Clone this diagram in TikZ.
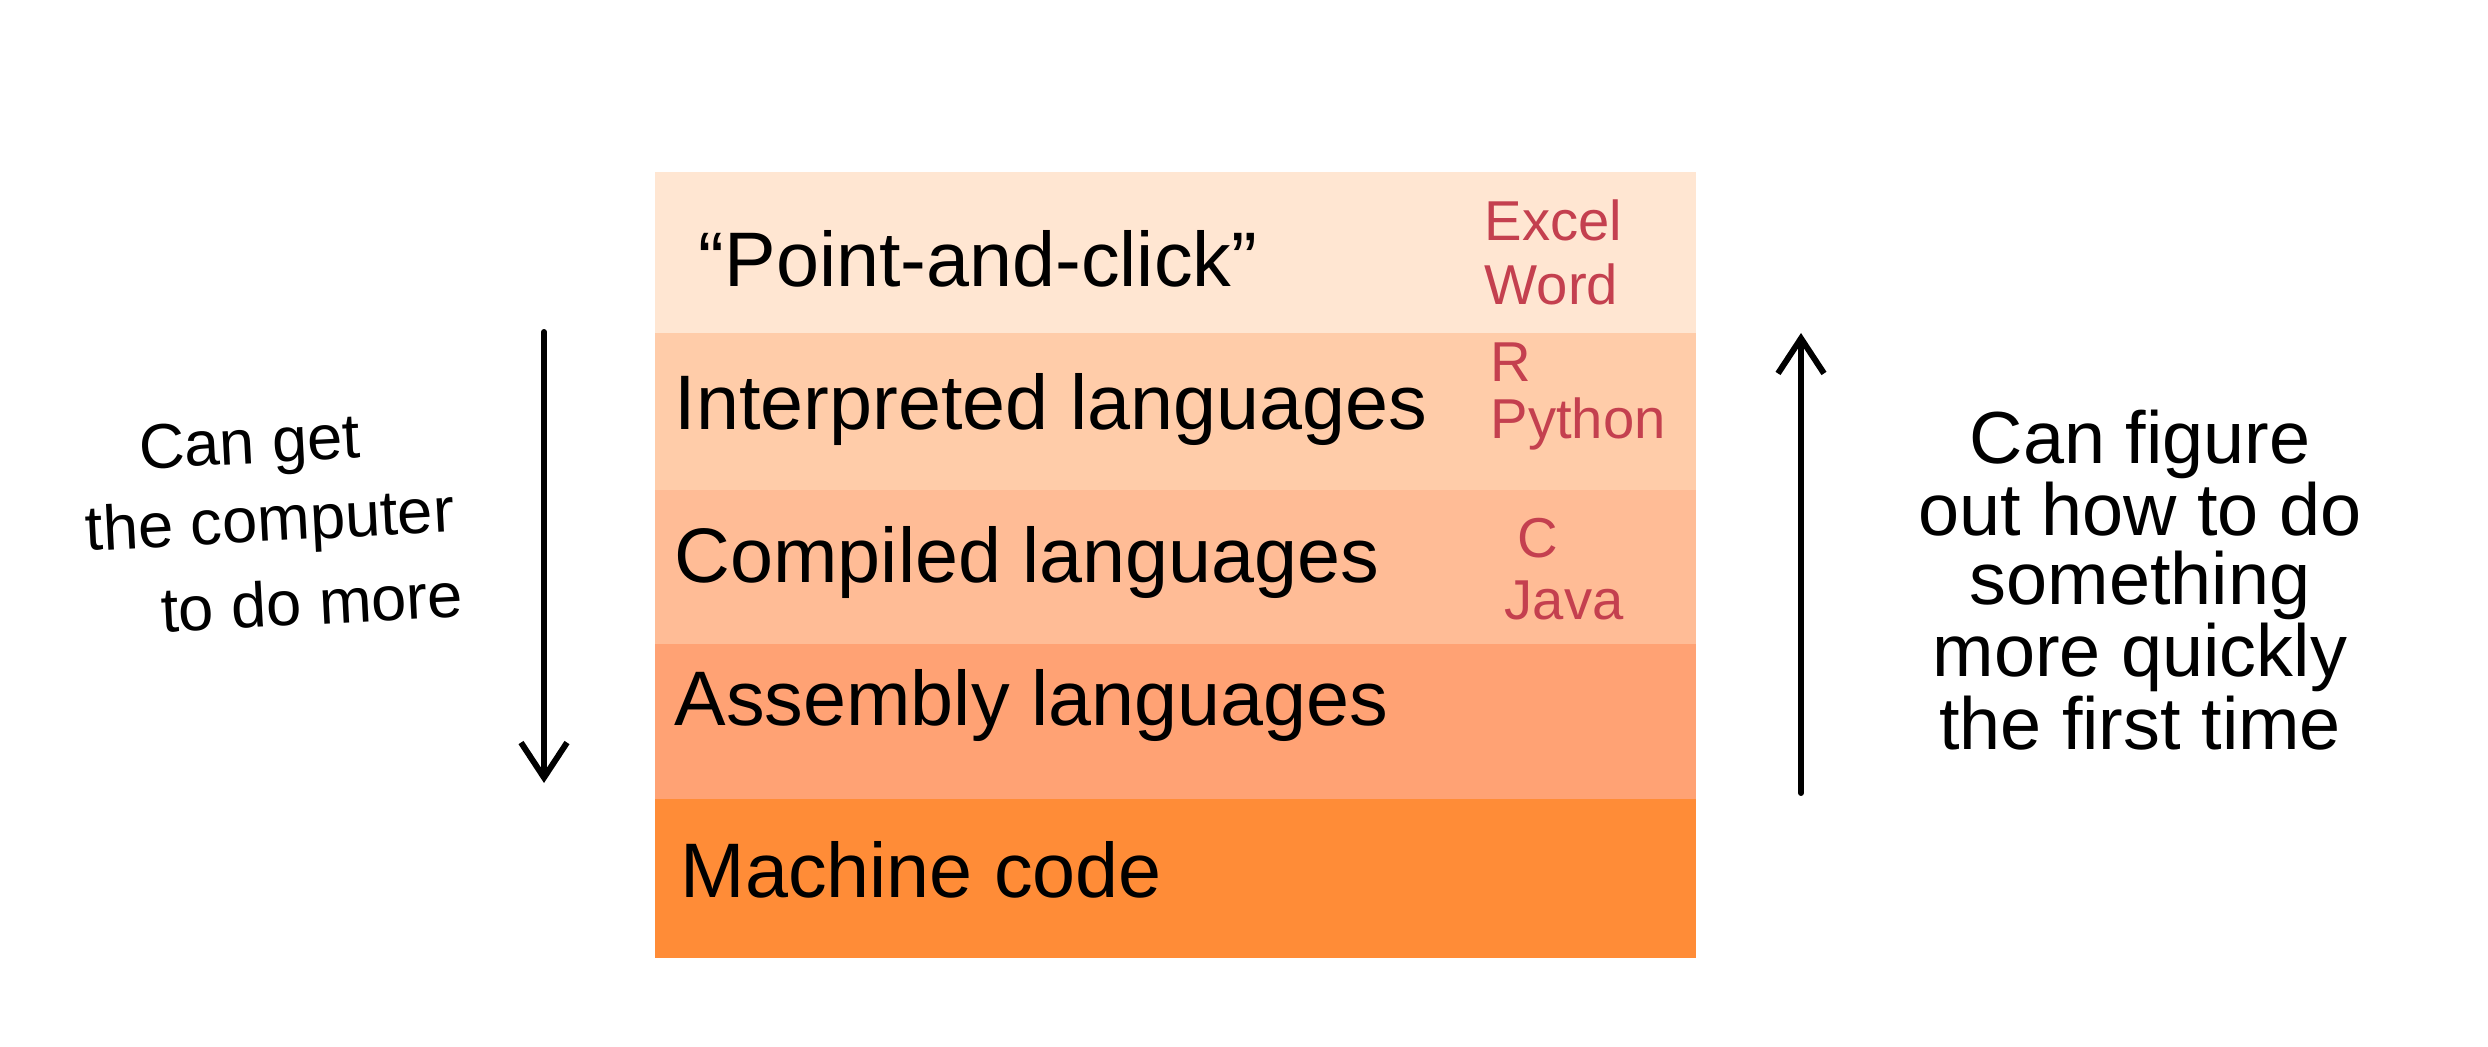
\documentclass[tikz,border=0pt]{standalone}
\usepackage{fontspec}
\setmainfont{Liberation Sans}
\usetikzlibrary{arrows.meta}
\definecolor{bandA}{HTML}{FFE6D2}
\definecolor{bandB}{HTML}{FFCCA9}
\definecolor{bandC}{HTML}{FFBC96}
\definecolor{bandD}{HTML}{FFA274}
\definecolor{bandE}{HTML}{FF8C37}
\definecolor{redtext}{HTML}{C4404F}
\tikzset{
  band/.style={rectangle, draw=none, inner sep=0pt, minimum width=104.1mm, anchor=north west},
  mainlabel/.style={anchor=west, inner sep=0pt, font=\fontsize{22}{26}\selectfont, text=black},
  examplelabel/.style={inner sep=0pt, font=\fontsize{16}{19}\selectfont, text=redtext},
  sidenote/.style={inner sep=0pt, align=center, text=black},
  leftnote/.style={inner sep=0pt, rotate=3, text=black, font=\fontsize{18}{21}\selectfont},
  handarrow/.style={line width=1.7pt, line cap=round, -{Straight Barb[length=3.5mm, width=4.6mm, line width=1.7pt]}}
}
\begin{document}
\begin{tikzpicture}[x=0.1mm, y=-0.1mm]
\useasboundingbox (0,0) rectangle (2488,1047);
\fill[white] (0,0) rectangle (2488,1047);
% bands
\node[band, fill=bandA, minimum height=16.1mm] (b1) at (654,171) {};
\node[band, fill=bandB, minimum height=15.7mm] (b2) at (654,332) {};
\node[band, fill=bandC, minimum height=15.4mm] (b3) at (654,489) {};
\node[band, fill=bandD, minimum height=15.5mm] (b4) at (654,643) {};
\node[band, fill=bandE, minimum height=15.9mm] (b5) at (654,798) {};
% main labels
\node[mainlabel] (l1) at (698,259) {“Point-and-click”};
\node[mainlabel] (l2) at (674,410) {Interpreted languages};
\node[mainlabel] (l3) at (674,563) {Compiled languages};
\node[mainlabel] (l4) at (674,706) {Assembly languages};
\node[mainlabel] (l5) at (680,870) {Machine code};
% examples
\node[examplelabel, anchor=west] (e1) at (1484,220) {Excel};
\node[examplelabel, anchor=west] (e2) at (1484,284) {Word};
\node[examplelabel, anchor=west] (e3) at (1490,362) {R};
\node[examplelabel, anchor=west] (e4) at (1490,424) {Python};
\node[examplelabel, anchor=west] (e5) at (1517,538) {C};
\node[examplelabel, anchor=west] (e6) at (1504,600) {Java};
% arrows
\coordinate (la1) at (544,332);
\coordinate (la2) at (544,783);
\draw[handarrow] (la1) -- (la2);
\coordinate (ra1) at (1801,793);
\coordinate (ra2) at (1801,333);
\draw[handarrow] (ra1) -- (ra2);
% left side note
\node[leftnote] (n1a) at (250,448) {Can get};
\node[leftnote] (n1b) at (270,525) {the computer};
\node[leftnote] (n1c) at (312,602) {to do more};
% right side note
\node[sidenote, font=\fontsize{21}{19.5}\selectfont] (n2) at (2140,580) {Can figure\\out how to do\\something\\more quickly\\the first time};
\end{tikzpicture}
\end{document}
